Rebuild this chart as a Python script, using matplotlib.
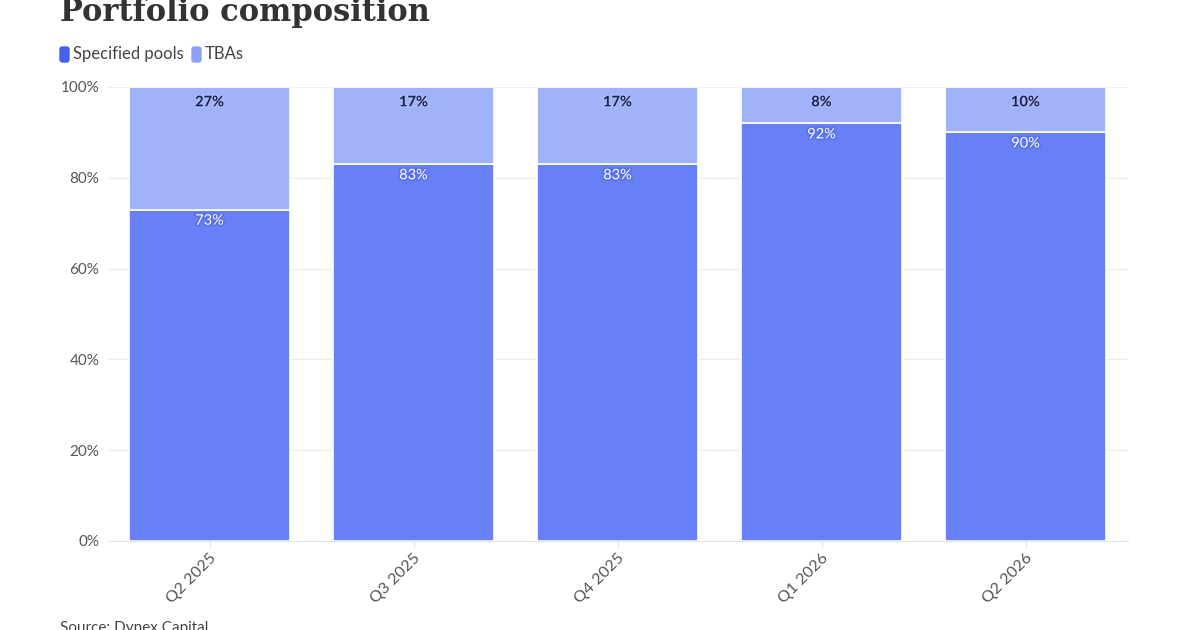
import matplotlib
matplotlib.use("Agg")
import matplotlib.pyplot as plt
import matplotlib.patheffects as pe
from matplotlib.patches import FancyBboxPatch
from matplotlib.ticker import FuncFormatter

categories = ["Q2 2025", "Q3 2025", "Q4 2025", "Q1 2026", "Q2 2026"]
specified_pools = [73, 83, 83, 92, 90]
tbas = [27, 17, 17, 8, 10]
yticks = [0, 20, 40, 60, 80, 100]

c_spec = "#6780F5"
c_tba = "#A0B2F8"
c_spec_leg = "#4461EE"
c_tba_leg = "#8DA1F6"

plt.rcParams['font.family'] = ['Lato', 'DejaVu Sans']

fig = plt.figure(figsize=(12, 6.3), dpi=100)
ax = fig.add_axes([107.5/1200, 1-541/630, 1020/1200, 454/630])

x = list(range(len(categories)))
w = 0.79
ax.bar(x, specified_pools, width=w, color=c_spec, edgecolor="white", linewidth=1.2, zorder=3)
ax.bar(x, tbas, bottom=specified_pools, width=w, color=c_tba, edgecolor="white", linewidth=1.2, zorder=3)

for i in x:
    ax.annotate(f"{tbas[i]}%", (i, specified_pools[i] + tbas[i]), xytext=(0, -11),
                textcoords="offset points", ha="center", va="center", fontsize=10.5,
                fontweight="bold", color="#1B1F4A", zorder=5,
                path_effects=[pe.withStroke(linewidth=2.5, foreground="#A9B9F8")])
    ax.annotate(f"{specified_pools[i]}%", (i, specified_pools[i]), xytext=(0, -8),
                textcoords="offset points", ha="center", va="center", fontsize=10.5,
                color="white", zorder=5,
                path_effects=[pe.withStroke(linewidth=2.5, foreground="#5A72E8")])

ax.set_xlim(-0.5, len(categories) - 0.5)
ax.set_ylim(0, 100)
ax.set_yticks(yticks)
ax.yaxis.set_major_formatter(FuncFormatter(lambda v, p: f"{v:.0f}%"))
ax.grid(axis="y", color="#EDEDED", linewidth=0.8, zorder=0)
for s in ["top", "right", "left"]:
    ax.spines[s].set_visible(False)
ax.spines["bottom"].set_color("#E3E3E3")
ax.tick_params(axis="y", length=0, labelsize=11, labelcolor="#555555", pad=6)
ax.tick_params(axis="x", length=5, color="#E3E3E3", labelsize=11.5, labelcolor="#555555", pad=2)
ax.set_xticks(x)
ax.set_xticklabels(categories, rotation=45, ha="right", rotation_mode="anchor")

fig.text(60/1200, 1-21/630, "Portfolio composition", fontsize=22, fontweight="bold",
         family=["DejaVu Serif"], color="#333333", ha="left", va="baseline")

# legend
for lx, col, lab in [(60, c_spec_leg, "Specified pools"), (192, c_tba_leg, "TBAs")]:
    p = FancyBboxPatch((lx/1200, 1-62/630), 9/1200, 15/630,
                       boxstyle="round,pad=0,rounding_size=0.002",
                       transform=fig.transFigure, color=col, mutation_aspect=1.9)
    fig.patches.append(p)
    fig.text((lx+13)/1200, 1-54/630, lab, fontsize=12, color="#444444", ha="left", va="center")

fig.text(60/1200, 1-632/630, "Source: Dynex Capital", fontsize=11, color="#444444", ha="left", va="baseline")

fig.savefig("out.png", dpi=100, facecolor="white")
